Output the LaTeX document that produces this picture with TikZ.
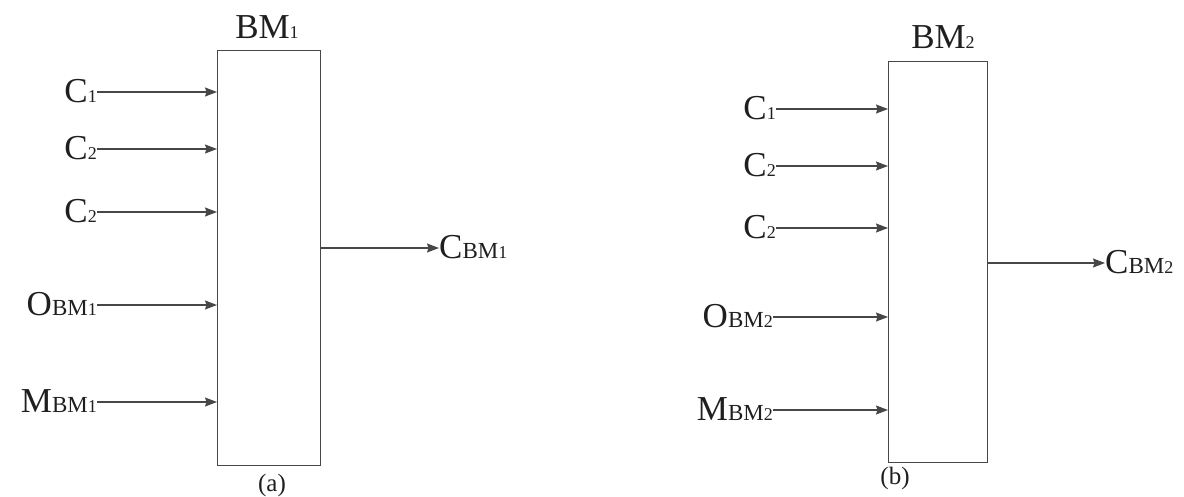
\documentclass[tikz,border=0pt]{standalone}
\usepackage{fontspec}
\setmainfont{Liberation Serif}
\usetikzlibrary{arrows.meta}
% letter with a small, baseline-aligned index: #1 letter, #2 small capitals, #3 digit
\newcommand\idx[3]{#1{\fontsize{23}{23}\selectfont #2}{\fontsize{18}{18}\selectfont #3}}

\begin{document}
\begin{tikzpicture}[x=1pt,y=-1pt,
  txt/.style={font=\fontsize{35}{35}\selectfont, inner sep=0pt, text=black!88},
  subcap/.style={font=\fontsize{25}{25}\selectfont, inner sep=0pt, text=black!88},
  blk/.style={draw=black!72, line width=1.3pt, rectangle, inner sep=0pt, anchor=north west},
  sig/.style={draw=black!72, line width=1.3pt, -{Stealth[length=12pt,width=9pt,inset=1.5pt]}}]
\useasboundingbox (0,0) rectangle (1184,496);

% ---------- block BM1 ----------
\node[blk, minimum width=103pt, minimum height=415pt] (boxA) at (217,50) {};
\node[txt, anchor=base] (tA) at (267,38) {\idx{BM}{}{1}};

\node[txt, anchor=base east] (a1) at (97,102) {\idx{C}{}{1}};
\node[txt, anchor=base east] (a2) at (97,159) {\idx{C}{}{2}};
\node[txt, anchor=base east] (a3) at (97,222) {\idx{C}{}{2}};
\node[txt, anchor=base east] (a4) at (97,315) {\idx{O}{BM}{1}};
\node[txt, anchor=base east] (a5) at (97,412) {\idx{M}{BM}{1}};
\foreach \n in {a1,a2,a3,a4,a5}
  \draw[sig] ([yshift=10pt]\n.base east) -- ([yshift=10pt]\n.base east -| boxA.west);

\node[txt, anchor=base west] (oA) at (439,258) {\idx{C}{BM}{1}};
\draw[sig] ([yshift=10pt]oA.base west -| boxA.east) -- ([yshift=10pt]oA.base west);

\node[subcap, anchor=center] (capA) at (272,485) {(a)};

% ---------- block BM2 ----------
\node[blk, minimum width=99pt, minimum height=401pt] (boxB) at (888,61) {};
\node[txt, anchor=base] (tB) at (943,48) {\idx{BM}{}{2}};

\node[txt, anchor=base east] (b1) at (776,119) {\idx{C}{}{1}};
\node[txt, anchor=base east] (b2) at (776,176) {\idx{C}{}{2}};
\node[txt, anchor=base east] (b3) at (776,238) {\idx{C}{}{2}};
\node[txt, anchor=base east] (b4) at (773,327) {\idx{O}{BM}{2}};
\node[txt, anchor=base east] (b5) at (773,420) {\idx{M}{BM}{2}};
\foreach \n in {b1,b2,b3,b4,b5}
  \draw[sig] ([yshift=10pt]\n.base east) -- ([yshift=10pt]\n.base east -| boxB.west);

\node[txt, anchor=base west] (oB) at (1105,273) {\idx{C}{BM}{2}};
\draw[sig] ([yshift=10pt]oB.base west -| boxB.east) -- ([yshift=10pt]oB.base west);

\node[subcap, anchor=center] (capB) at (895,478) {(b)};
\end{tikzpicture}
\end{document}
